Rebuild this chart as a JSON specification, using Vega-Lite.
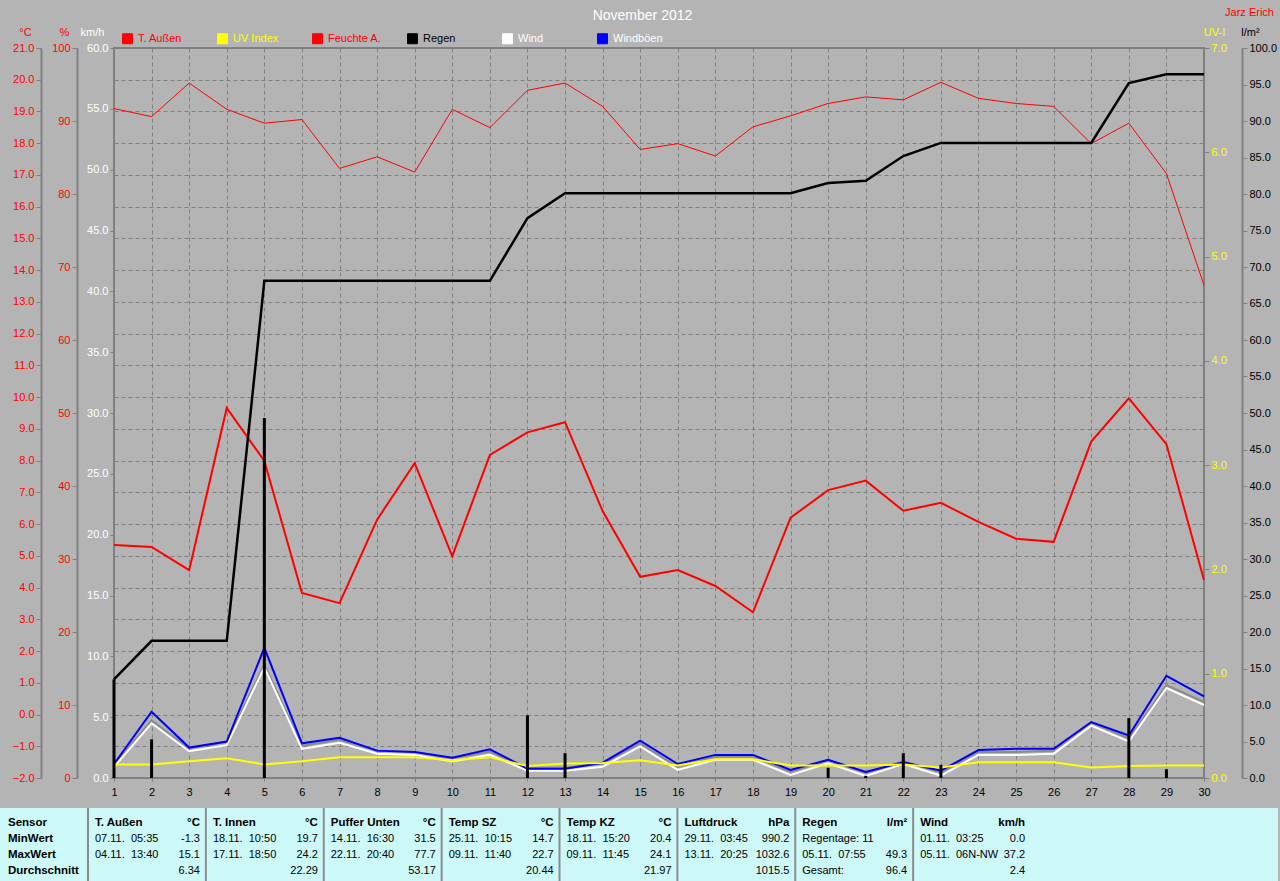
{
"$schema": "https://vega.github.io/schema/vega-lite/v6.json",
"width": 1090, "height": 730,
"autosize": {"type": "none"},
"padding": {"left": 114, "top": 48, "right": 76, "bottom": 103},
"background": "#b4b4b4",
"config": {
  "font": "Liberation Sans",
  "view": {"stroke": "#808080", "strokeWidth": 2, "fill": "#b4b4b4"},
  "axis": {"labelFontSize": 11, "labelFont": "Liberation Sans", "titleFont": "Liberation Sans", "titleFontSize": 11, "titleFontWeight": "normal", "tickColor": "#808080", "domainColor": "#808080", "gridColor": "#808080", "gridDash": [4, 3], "gridOpacity": 1, "gridWidth": 1, "labelOverlap": false, "labelFlush": false, "grid": false},
  "text": {"font": "Liberation Sans", "fontSize": 11}
},
"datasets": {
  "series": [
    {"day": 1, "T": 5.34, "H": 91.7, "rainCum": 13.5, "rainDay": 13.5, "wind": 0.9, "gust": 1.15, "uv": 0.13},
    {"day": 2, "T": 5.28, "H": 90.6, "rainCum": 18.8, "rainDay": 5.3, "wind": 4.5, "gust": 5.45, "uv": 0.13},
    {"day": 3, "T": 4.55, "H": 95.2, "rainCum": 18.8, "rainDay": 0, "wind": 2.2, "gust": 2.5, "uv": 0.16},
    {"day": 4, "T": 9.66, "H": 91.6, "rainCum": 18.8, "rainDay": 0, "wind": 2.7, "gust": 3.0, "uv": 0.19},
    {"day": 5, "T": 7.99, "H": 89.7, "rainCum": 68.1, "rainDay": 49.3, "wind": 9.1, "gust": 10.7, "uv": 0.13},
    {"day": 6, "T": 3.83, "H": 90.2, "rainCum": 68.1, "rainDay": 0, "wind": 2.4, "gust": 2.85, "uv": 0.16},
    {"day": 7, "T": 3.51, "H": 83.5, "rainCum": 68.1, "rainDay": 0, "wind": 2.9, "gust": 3.3, "uv": 0.2},
    {"day": 8, "T": 6.14, "H": 85.1, "rainCum": 68.1, "rainDay": 0, "wind": 2.0, "gust": 2.25, "uv": 0.2},
    {"day": 9, "T": 7.92, "H": 83.0, "rainCum": 68.1, "rainDay": 0, "wind": 1.9, "gust": 2.14, "uv": 0.2},
    {"day": 10, "T": 4.99, "H": 91.6, "rainCum": 68.1, "rainDay": 0, "wind": 1.35, "gust": 1.67, "uv": 0.17},
    {"day": 11, "T": 8.18, "H": 89.1, "rainCum": 68.1, "rainDay": 0, "wind": 1.9, "gust": 2.36, "uv": 0.2},
    {"day": 12, "T": 8.89, "H": 94.2, "rainCum": 76.7, "rainDay": 8.6, "wind": 0.6, "gust": 0.77, "uv": 0.115},
    {"day": 13, "T": 9.21, "H": 95.2, "rainCum": 80.1, "rainDay": 3.4, "wind": 0.6, "gust": 0.77, "uv": 0.14},
    {"day": 14, "T": 6.41, "H": 92.0, "rainCum": 80.1, "rainDay": 0, "wind": 0.93, "gust": 1.26, "uv": 0.145},
    {"day": 15, "T": 4.34, "H": 86.1, "rainCum": 80.1, "rainDay": 0, "wind": 2.6, "gust": 3.07, "uv": 0.17},
    {"day": 16, "T": 4.55, "H": 86.9, "rainCum": 80.1, "rainDay": 0, "wind": 0.66, "gust": 1.15, "uv": 0.12},
    {"day": 17, "T": 4.05, "H": 85.2, "rainCum": 80.1, "rainDay": 0, "wind": 1.5, "gust": 1.9, "uv": 0.18},
    {"day": 18, "T": 3.22, "H": 89.2, "rainCum": 80.1, "rainDay": 0, "wind": 1.5, "gust": 1.9, "uv": 0.18},
    {"day": 19, "T": 6.2, "H": 90.7, "rainCum": 80.1, "rainDay": 0, "wind": 0.25, "gust": 0.66, "uv": 0.12},
    {"day": 20, "T": 7.07, "H": 92.4, "rainCum": 81.5, "rainDay": 1.4, "wind": 1.2, "gust": 1.5, "uv": 0.12},
    {"day": 21, "T": 7.37, "H": 93.3, "rainCum": 81.8, "rainDay": 0.3, "wind": 0.16, "gust": 0.5, "uv": 0.12},
    {"day": 22, "T": 6.42, "H": 92.9, "rainCum": 85.2, "rainDay": 3.4, "wind": 1.15, "gust": 1.3, "uv": 0.13},
    {"day": 23, "T": 6.67, "H": 95.3, "rainCum": 87.0, "rainDay": 1.8, "wind": 0.2, "gust": 0.6, "uv": 0.1},
    {"day": 24, "T": 6.07, "H": 93.1, "rainCum": 87.0, "rainDay": 0, "wind": 1.9, "gust": 2.3, "uv": 0.15},
    {"day": 25, "T": 5.54, "H": 92.4, "rainCum": 87.0, "rainDay": 0, "wind": 1.9, "gust": 2.4, "uv": 0.15},
    {"day": 26, "T": 5.44, "H": 92.0, "rainCum": 87.0, "rainDay": 0, "wind": 2.0, "gust": 2.4, "uv": 0.15},
    {"day": 27, "T": 8.6, "H": 86.9, "rainCum": 87.0, "rainDay": 0, "wind": 4.3, "gust": 4.6, "uv": 0.1},
    {"day": 28, "T": 9.96, "H": 89.7, "rainCum": 95.2, "rainDay": 8.2, "wind": 3.0, "gust": 3.5, "uv": 0.115},
    {"day": 29, "T": 8.52, "H": 82.8, "rainCum": 96.4, "rainDay": 1.2, "wind": 7.4, "gust": 8.4, "uv": 0.12},
    {"day": 30, "T": 4.24, "H": 67.5, "rainCum": 96.4, "rainDay": 0, "wind": 6.0, "gust": 6.7, "uv": 0.12}
  ],
  "tableHead": [
    {"col": 1, "name": "T. Außen", "unit": "°C"},
    {"col": 2, "name": "T. Innen", "unit": "°C"},
    {"col": 3, "name": "Puffer Unten", "unit": "°C"},
    {"col": 4, "name": "Temp SZ", "unit": "°C"},
    {"col": 5, "name": "Temp KZ", "unit": "°C"},
    {"col": 6, "name": "Luftdruck", "unit": "hPa"},
    {"col": 7, "name": "Regen", "unit": "l/m²"},
    {"col": 8, "name": "Wind", "unit": "km/h"}
  ],
  "tableBody": [
    {"col": 1, "row": 1, "left": "07.11. \u00a005:35", "right": "-1.3"},
    {"col": 1, "row": 2, "left": "04.11. \u00a013:40", "right": "15.1"},
    {"col": 1, "row": 3, "left": "", "right": "6.34"},
    {"col": 2, "row": 1, "left": "18.11. \u00a010:50", "right": "19.7"},
    {"col": 2, "row": 2, "left": "17.11. \u00a018:50", "right": "24.2"},
    {"col": 2, "row": 3, "left": "", "right": "22.29"},
    {"col": 3, "row": 1, "left": "14.11. \u00a016:30", "right": "31.5"},
    {"col": 3, "row": 2, "left": "22.11. \u00a020:40", "right": "77.7"},
    {"col": 3, "row": 3, "left": "", "right": "53.17"},
    {"col": 4, "row": 1, "left": "25.11. \u00a010:15", "right": "14.7"},
    {"col": 4, "row": 2, "left": "09.11. \u00a011:40", "right": "22.7"},
    {"col": 4, "row": 3, "left": "", "right": "20.44"},
    {"col": 5, "row": 1, "left": "18.11. \u00a015:20", "right": "20.4"},
    {"col": 5, "row": 2, "left": "09.11. \u00a011:45", "right": "24.1"},
    {"col": 5, "row": 3, "left": "", "right": "21.97"},
    {"col": 6, "row": 1, "left": "29.11. \u00a003:45", "right": "990.2"},
    {"col": 6, "row": 2, "left": "13.11. \u00a020:25", "right": "1032.6"},
    {"col": 6, "row": 3, "left": "", "right": "1015.5"},
    {"col": 7, "row": 1, "left": "Regentage: 11", "right": ""},
    {"col": 7, "row": 2, "left": "05.11. \u00a007:55", "right": "49.3"},
    {"col": 7, "row": 3, "left": "Gesamt:", "right": "96.4"},
    {"col": 8, "row": 1, "left": "01.11. \u00a003:25", "right": "0.0"},
    {"col": 8, "row": 2, "left": "05.11. \u00a006N-NW", "right": "37.2"},
    {"col": 8, "row": 3, "left": "", "right": "2.4"}
  ],
  "sensorLabels": [
    {"row": 0, "label": "Sensor"},
    {"row": 1, "label": "MinWert"},
    {"row": 2, "label": "MaxWert"},
    {"row": 3, "label": "Durchschnitt"}
  ]
},
"resolve": {"scale": {"x": "independent", "y": "independent"}},
"layer": [
  {
    "data": {"name": "series"},
    "mark": {"type": "line", "strokeWidth": 1},
    "encoding": {
      "x": {"field": "day", "type": "quantitative", "scale": {"domain": [1, 30], "nice": false, "zero": false},
            "axis": {"orient": "bottom", "values": [1,2,3,4,5,6,7,8,9,10,11,12,13,14,15,16,17,18,19,20,21,22,23,24,25,26,27,28,29,30], "format": "d", "grid": true, "domain": false, "tickSize": 3, "labelPadding": 5, "labelColor": "#000000", "title": null}},
      "y": {"field": "H", "type": "quantitative", "scale": {"domain": [0, 100], "nice": false, "zero": false},
            "axis": {"orient": "left", "offset": 37, "values": [0,10,20,30,40,50,60,70,80,90,100], "format": "d", "grid": false, "domainWidth": 2, "tickSize": 5, "labelPadding": 2, "labelColor": "#ff0000", "title": "%", "titleColor": "#ff0000", "titleAngle": 0, "titleAlign": "center", "titleBaseline": "middle", "titleX": -13, "titleY": -16}},
      "color": {"datum": "Feuchte A.", "type": "nominal",
                "scale": {"domain": ["T. Außen", "UV Index", "Feuchte A.", "Regen", "Wind", "Windböen"], "range": ["#ff0000", "#ffff00", "#ff0000", "#000000", "#ffffff", "#0000ff"]},
                "legend": {"orient": "none", "legendX": 8, "legendY": -15, "direction": "horizontal", "columns": 6, "gridAlign": "all", "columnPadding": 23, "symbolType": "square", "symbolSize": 100, "symbolStrokeWidth": 1, "symbolStrokeColor": "#ffffff", "labelFontSize": 11, "labelFont": "Liberation Sans", "labelOffset": 5, "title": null, "padding": 0,
                  "encode": {
                    "symbols": {"update": {"fill": {"signal": "scale('color', datum.value)"}, "stroke": {"value": "#ffffff"}, "strokeWidth": {"value": 1}, "opacity": {"value": 1}, "shape": {"value": "square"}, "size": {"value": 100}}},
                    "labels": {"update": {"fill": {"signal": "datum.label == 'UV Index' ? '#ffff00' : datum.label == 'Regen' ? '#000000' : (datum.label == 'Wind' || datum.label == 'Windböen') ? '#ffffff' : '#ff0000'"}}}
                  }}}
    }
  },
  {
    "data": {"name": "series"},
    "mark": {"type": "line", "strokeWidth": 2},
    "encoding": {
      "x": {"field": "day", "type": "quantitative", "scale": {"domain": [1, 30], "nice": false, "zero": false}, "axis": null},
      "y": {"field": "T", "type": "quantitative", "scale": {"domain": [-2, 21], "nice": false, "zero": false},
            "axis": {"orient": "left", "offset": 73, "values": [-2,-1,0,1,2,3,4,5,6,7,8,9,10,11,12,13,14,15,16,17,18,19,20,21], "format": ".1f", "grid": true, "domainWidth": 2, "tickSize": 5, "labelPadding": 2, "labelColor": "#ff0000", "title": "°C", "titleColor": "#ff0000", "titleAngle": 0, "titleAlign": "center", "titleBaseline": "middle", "titleX": -16, "titleY": -16}},
      "color": {"datum": "T. Außen", "type": "nominal"}
    }
  },
  {
    "data": {"name": "series"},
    "mark": {"type": "line", "strokeWidth": 2, "color": "#8c8c8c", "yOffset": -3},
    "encoding": {
      "x": {"field": "day", "type": "quantitative", "scale": {"domain": [1, 30], "nice": false, "zero": false}, "axis": null},
      "y": {"field": "wind", "type": "quantitative", "scale": {"domain": [0, 60], "nice": false, "zero": false}, "axis": null}
    }
  },
  {
    "data": {"name": "series"},
    "mark": {"type": "line", "strokeWidth": 2},
    "encoding": {
      "x": {"field": "day", "type": "quantitative", "scale": {"domain": [1, 30], "nice": false, "zero": false}, "axis": null},
      "y": {"field": "wind", "type": "quantitative", "scale": {"domain": [0, 60], "nice": false, "zero": false},
            "axis": {"orient": "left", "offset": 0, "values": [0,5,10,15,20,25,30,35,40,45,50,55,60], "format": ".1f", "grid": false, "domain": false, "tickSize": 4, "labelPadding": 2, "labelColor": "#ffffff", "title": "km/h", "titleColor": "#ffffff", "titleAngle": 0, "titleAlign": "center", "titleBaseline": "middle", "titleX": -22, "titleY": -16}},
      "color": {"datum": "Wind", "type": "nominal"}
    }
  },
  {
    "data": {"name": "series"},
    "mark": {"type": "line", "strokeWidth": 2},
    "encoding": {
      "x": {"field": "day", "type": "quantitative", "scale": {"domain": [1, 30], "nice": false, "zero": false},
            "axis": {"orient": "top", "labels": false, "ticks": false, "domain": false, "grid": false, "title": "November 2012", "titleColor": "#ffffff", "titleFontSize": 14, "titleAlign": "center", "titleBaseline": "middle", "titleX": 528, "titleY": -33}},
      "y": {"field": "gust", "type": "quantitative", "scale": {"domain": [0, 60], "nice": false, "zero": false},
            "axis": {"orient": "right", "labels": false, "ticks": false, "domain": false, "grid": false, "title": "Jarz Erich", "titleColor": "#ff0000", "titleFontSize": 11, "titleAngle": 0, "titleAlign": "center", "titleBaseline": "middle", "titleX": 45, "titleY": -36}},
      "color": {"datum": "Windböen", "type": "nominal"}
    }
  },
  {
    "data": {"name": "series"},
    "mark": {"type": "line", "strokeWidth": 2},
    "encoding": {
      "x": {"field": "day", "type": "quantitative", "scale": {"domain": [1, 30], "nice": false, "zero": false}, "axis": null},
      "y": {"field": "uv", "type": "quantitative", "scale": {"domain": [0, 7], "nice": false, "zero": false},
            "axis": {"orient": "right", "offset": 0, "values": [0,1,2,3,4,5,6,7], "format": ".1f", "grid": false, "domain": false, "tickSize": 5, "labelPadding": 2, "labelColor": "#ffff00", "title": "UV-I", "titleColor": "#ffff00", "titleAngle": 0, "titleAlign": "center", "titleBaseline": "middle", "titleX": 10, "titleY": -16}},
      "color": {"datum": "UV Index", "type": "nominal"}
    }
  },
  {
    "data": {"name": "series"},
    "mark": {"type": "line", "strokeWidth": 2.5},
    "encoding": {
      "x": {"field": "day", "type": "quantitative", "scale": {"domain": [1, 30], "nice": false, "zero": false}, "axis": null},
      "y": {"field": "rainCum", "type": "quantitative", "scale": {"domain": [0, 100], "nice": false, "zero": false},
            "axis": {"orient": "right", "offset": 38, "values": [0,5,10,15,20,25,30,35,40,45,50,55,60,65,70,75,80,85,90,95,100], "format": ".1f", "grid": false, "domainWidth": 2, "tickSize": 5, "labelPadding": 2, "labelColor": "#000000", "title": "l/m²", "titleColor": "#000000", "titleAngle": 0, "titleAlign": "center", "titleBaseline": "middle", "titleX": 8, "titleY": -16}},
      "color": {"datum": "Regen", "type": "nominal"}
    }
  },
  {
    "data": {"name": "series"},
    "transform": [{"filter": "datum.rainDay > 0"}],
    "mark": {"type": "rule", "strokeWidth": 3},
    "encoding": {
      "x": {"field": "day", "type": "quantitative", "scale": {"domain": [1, 30], "nice": false, "zero": false}, "axis": null},
      "y": {"field": "rainDay", "type": "quantitative", "scale": {"domain": [0, 100], "nice": false, "zero": false}, "axis": null},
      "y2": {"datum": 0},
      "color": {"datum": "Regen", "type": "nominal"}
    }
  },
  {
    "data": {"values": [{}]},
    "mark": {"type": "rect", "fill": "#ccf8f8"},
    "encoding": {
      "x": {"datum": 0, "type": "quantitative", "scale": {"domain": [0, 1], "range": [-114, 1164]}, "axis": null},
      "x2": {"datum": 1},
      "y": {"datum": 0, "type": "quantitative", "scale": {"domain": [0, 1], "range": [760, 833]}, "axis": null},
      "y2": {"datum": 1}
    }
  },
  {
    "data": {"name": "tableHead"},
    "mark": {"type": "rule", "strokeWidth": 2, "color": "#8c8c8c"},
    "encoding": {
      "x": {"field": "col", "type": "quantitative", "scale": {"domain": [1, 9], "range": [-26, 917]}, "axis": null},
      "y": {"datum": 0, "type": "quantitative", "scale": {"domain": [0, 1], "range": [760, 833]}, "axis": null},
      "y2": {"datum": 1}
    }
  },
  {
    "data": {"name": "tableHead"},
    "mark": {"type": "text", "align": "left", "baseline": "middle", "dx": 7, "fontWeight": "bold", "fontSize": 11.5, "color": "#000000"},
    "encoding": {
      "x": {"field": "col", "type": "quantitative", "scale": {"domain": [1, 9], "range": [-26, 917]}, "axis": null},
      "y": {"datum": 0, "type": "quantitative", "scale": {"domain": [0, 3], "range": [775, 823]}, "axis": null},
      "text": {"field": "name"}
    }
  },
  {
    "data": {"name": "tableHead"},
    "mark": {"type": "text", "align": "right", "baseline": "middle", "dx": 112, "fontWeight": "bold", "fontSize": 11.5, "color": "#000000"},
    "encoding": {
      "x": {"field": "col", "type": "quantitative", "scale": {"domain": [1, 9], "range": [-26, 917]}, "axis": null},
      "y": {"datum": 0, "type": "quantitative", "scale": {"domain": [0, 3], "range": [775, 823]}, "axis": null},
      "text": {"field": "unit"}
    }
  },
  {
    "data": {"name": "tableBody"},
    "mark": {"type": "text", "align": "left", "baseline": "middle", "dx": 7, "color": "#000000"},
    "encoding": {
      "x": {"field": "col", "type": "quantitative", "scale": {"domain": [1, 9], "range": [-26, 917]}, "axis": null},
      "y": {"field": "row", "type": "quantitative", "scale": {"domain": [0, 3], "range": [775, 823]}, "axis": null},
      "text": {"field": "left"}
    }
  },
  {
    "data": {"name": "tableBody"},
    "mark": {"type": "text", "align": "right", "baseline": "middle", "dx": 112, "color": "#000000"},
    "encoding": {
      "x": {"field": "col", "type": "quantitative", "scale": {"domain": [1, 9], "range": [-26, 917]}, "axis": null},
      "y": {"field": "row", "type": "quantitative", "scale": {"domain": [0, 3], "range": [775, 823]}, "axis": null},
      "text": {"field": "right"}
    }
  },
  {
    "data": {"name": "sensorLabels"},
    "mark": {"type": "text", "align": "left", "baseline": "middle", "dx": -80, "fontWeight": "bold", "fontSize": 11.5, "color": "#000000"},
    "encoding": {
      "x": {"datum": 1, "type": "quantitative", "scale": {"domain": [1, 9], "range": [-26, 917]}, "axis": null},
      "y": {"field": "row", "type": "quantitative", "scale": {"domain": [0, 3], "range": [775, 823]}, "axis": null},
      "text": {"field": "label"}
    }
  }
]
}
